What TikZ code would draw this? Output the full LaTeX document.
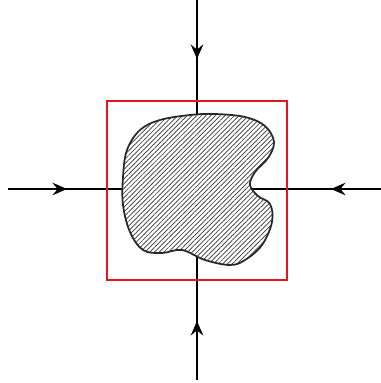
\documentclass[tikz,border=0pt]{standalone}
\usetikzlibrary{arrows.meta,patterns.meta}
\begin{document}
\begin{tikzpicture}[x=0.75pt,y=-0.75pt,
  axis/.style={line width=0.8pt,black},
  arr/.style={line width=0.8pt,-{Stealth[length=11pt,width=9.5pt,inset=4pt]}},
  frame/.style={line width=1.1pt,draw={rgb,255:red,230;green,20;blue,30}},
  blob/.style={line width=1.3pt,draw=black!85,
    postaction={pattern={Lines[angle=45,distance=2.5pt,line width=0.5pt]},pattern color=black!80}}]
\useasboundingbox (0,0) rectangle (381,383);
\coordinate (L) at (8,189);
\coordinate (R) at (381,189);
\coordinate (T) at (197,0);
\coordinate (B) at (197,380);
\coordinate (La) at (67,189);
\coordinate (Ra) at (331,189);
\coordinate (Ta) at (197,59);
\coordinate (Ba) at (197,321);
\draw[axis] (L) -- (R);
\draw[axis] (T) -- (B);
\draw[arr] (L) -- (La);
\draw[arr] (R) -- (Ra);
\draw[arr] (T) -- (Ta);
\draw[arr] (B) -- (Ba);
\draw[blob,fill=white] plot[smooth cycle,tension=0.6] coordinates {
 (123,177) (127,150) (140,130) (160,120) (190,115) (215,114) (245,117)
 (265,126) (274,142) (268,158) (255,172) (250,185) (258,196) (270,204)
 (272,222) (262,245) (245,260) (230,265) (205,260) (182,250) (162,253)
 (143,250) (130,232) (123,205)};
\node[frame,draw,minimum width=180*0.75pt,minimum height=179*0.75pt,inner sep=0pt] (box) at (197,190.5) {};
\end{tikzpicture}
\end{document}
